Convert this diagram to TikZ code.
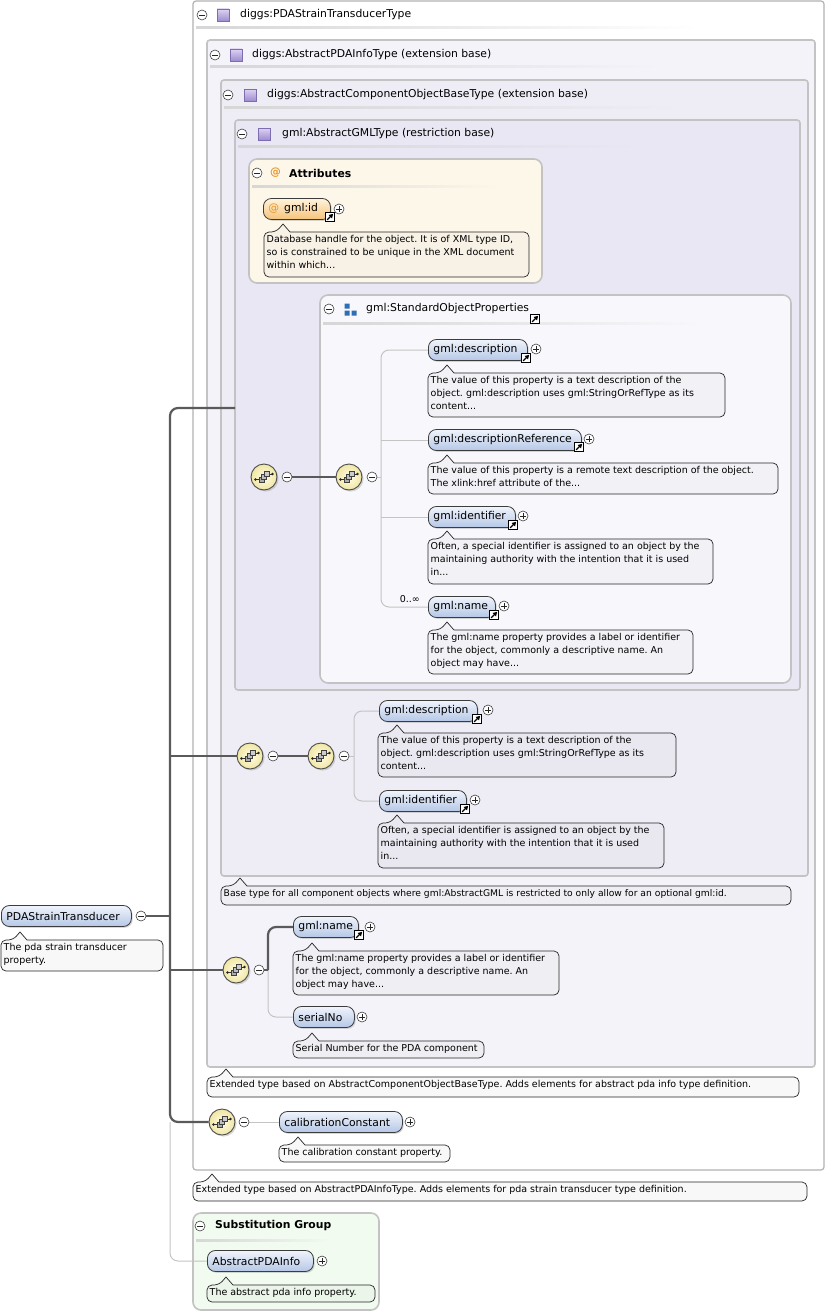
\documentclass[tikz,border=0pt]{standalone}
\usepackage{fontspec}
\setmainfont{DejaVu Sans}
\usetikzlibrary{shadows,arrows.meta}
\frenchspacing
\definecolor{boxline}{HTML}{C3C3C3}
\definecolor{bgtwo}{HTML}{F4F3F9}
\definecolor{bgthree}{HTML}{EEEDF6}
\definecolor{bgfour}{HTML}{E9E7F3}
\definecolor{attrbg}{HTML}{FDF7EA}
\definecolor{sopbg}{HTML}{F8F8FC}
\definecolor{subbg}{HTML}{F1FBEF}
\definecolor{pilltop}{HTML}{F0F4FB}
\definecolor{pillbot}{HTML}{B5C7E6}
\definecolor{pillline}{HTML}{3C3C3C}
\definecolor{orgtop}{HTML}{FFF3DC}
\definecolor{orgbot}{HTML}{F5C47A}
\definecolor{seqin}{HTML}{FFFDE6}
\definecolor{seqout}{HTML}{F0E6A4}
\definecolor{trunkc}{HTML}{5A5A5A}
\definecolor{branchc}{HTML}{C4C4C4}
\definecolor{purtop}{HTML}{DDD3F2}
\definecolor{purbot}{HTML}{9D8CCF}
\definecolor{purline}{HTML}{7D6DB0}
\definecolor{sopblue}{HTML}{2F6DB5}
\definecolor{atorange}{HTML}{E8962A}
\newcommand\dfont{\fontsize{9.5}{13}\selectfont}
\newcommand\tfont{\fontsize{10.8}{13}\selectfont}
\pgfdeclarelayer{back}
\pgfdeclarelayer{mid}
\pgfsetlayers{back,mid,main}
\tikzset{
  box/.style={draw=boxline, line width=1.6pt, rounded corners=3pt},
  pill/.style={draw=pillline, line width=0.8pt, rounded corners=8pt, top color=pilltop, bottom color=pillbot,
     minimum height=21pt, inner xsep=5pt, inner ysep=0pt, font=\tfont, anchor=west, align=left,
     drop shadow={shadow xshift=1.3pt, shadow yshift=-1.3pt, opacity=0.3}},
  orgpill/.style={top color=orgtop, bottom color=orgbot},
  descline/.style={draw=black!85, line width=0.7pt, fill=gray!40, fill opacity=0.12},
  desctext/.style={anchor=north west, inner sep=1pt, align=left, font=\dfont},
  title/.style={anchor=west, inner sep=0pt, font=\tfont},
  pm/.style={circle, draw=black!75, fill=white, minimum size=10pt, inner sep=0pt, line width=0.6pt},
  minus/.style={pm, path picture={\draw[black!85,line width=0.7pt]
      ([xshift=-2.6pt]path picture bounding box.center) -- ([xshift=2.6pt]path picture bounding box.center);}},
  plus/.style={pm, path picture={\draw[black!85,line width=0.7pt]
      ([xshift=-2.6pt]path picture bounding box.center) -- ([xshift=2.6pt]path picture bounding box.center)
      ([yshift=-2.6pt]path picture bounding box.center) -- ([yshift=2.6pt]path picture bounding box.center);}},
  linkic/.style={rectangle, draw=black, fill=white, minimum size=9.5pt, inner sep=0pt, line width=0.8pt,
     path picture={\draw[line width=1.3pt, -{Triangle[length=4pt,width=4.4pt]}]
      ([shift={(-2.8pt,-2.8pt)}]path picture bounding box.center) -- ([shift={(3.2pt,3.2pt)}]path picture bounding box.center);}},
  purpsq/.style={rectangle, minimum size=12pt, inner sep=0pt, draw=purline, line width=0.6pt, top color=purtop, bottom color=purbot},
  seq/.style={circle, minimum size=26pt, inner sep=0pt, draw=black!70, line width=0.9pt, inner color=seqin, outer color=seqout,
     drop shadow={shadow xshift=1.6pt, shadow yshift=-1.6pt, opacity=0.3},
     path picture={\begin{scope}[shift={(path picture bounding box.center)}]
        \draw[black!80, line width=0.7pt] (-8.5,2.5) -- (-4,2.5) (5,-3) -- (8.5,-3);
        \fill[black!85] (-8.5,2.5) circle (1.3pt) (8.5,-3) circle (1.3pt);
        \draw[black!75, line width=0.5pt, fill=gray!65] (-5,0) rectangle (0,5);
        \draw[black!75, line width=0.5pt, fill=gray!50] (-2.5,-2.5) rectangle (2.5,2.5);
        \draw[black!75, line width=0.5pt, fill=gray!40] (0,-5.5) rectangle (5,-0.5);
      \end{scope}}},
  trunk/.style={draw=trunkc, line width=2.2pt},
  seqlink/.style={draw=black!65, line width=1.2pt},
  branch/.style={draw=branchc, line width=1pt}
}
\newcommand\pillnode[6]{%
  \pgfmathsetmacro\tw{#5-11}%
  \node[pill, #1, text width=\tw pt] (#2) at (#3,#4) {#6};}
\newcommand\descbox[6]{%
  \draw[descline] ({#2+26},#3) [rounded corners=5pt] -- ({#2+#4},#3) -- ({#2+#4},{#3+#5}) -- (#2,{#3+#5}) -- (#2,#3) -- ({#2+12},#3) [sharp corners] -- ({#2+19},{#3-8}) -- cycle;
  \node[desctext] (#1) at ({#2+1.5},{#3+2.5}) {#6};}
% separator: x1 y x2 background colour
\newcommand\sepline[4]{\shade[left color=black!16, right color=#4] (#1,#2) rectangle (#3,{#2+2});}
\begin{document}
\begin{tikzpicture}[x=1pt,y=-1pt]
\useasboundingbox (0,0) rectangle (826,1314);
\begin{pgfonlayer}{back}
\fill[white] (0,0) rectangle (826,1314);
% containers
\draw[box, fill=white, line width=1.2pt, draw=black!30] (193,1) rectangle (824,1170);
\draw[box, fill=bgtwo] (207,40) rectangle (815,1067);
\draw[box, fill=bgthree] (221,80) rectangle (808,876);
\draw[box, fill=bgfour] (235,120) rectangle (800,690);
\draw[box, fill=attrbg, rounded corners=8pt] (249,159) rectangle (542,283);
\draw[box, fill=sopbg, rounded corners=8pt] (320,295) rectangle (791,683);
\draw[box, fill=subbg, rounded corners=8pt] (193,1213) rectangle (379,1310);
% header separators
\sepline{196}{27}{700}{white}
\sepline{210}{66}{660}{bgtwo}
\sepline{224}{106}{680}{bgthree}
\sepline{238}{145}{640}{bgfour}
\sepline{252}{185}{500}{attrbg}
\sepline{323}{322}{700}{sopbg}
\sepline{196}{1239}{330}{subbg}
\end{pgfonlayer}

% headers
\node[minus] (h1m) at (202,15) {};
\node[purpsq] (h1s) at (223,15) {};
\node[title] (h1t) at (240,15) {diggs:PDAStrainTransducerType};
\node[minus] (h2m) at (215,55) {};
\node[purpsq] (h2s) at (236,55) {};
\node[title] (h2t) at (252,55) {diggs:AbstractPDAInfoType (extension base)};
\node[minus] (h3m) at (228,95) {};
\node[purpsq] (h3s) at (250,95) {};
\node[title] (h3t) at (267,95) {diggs:AbstractComponentObjectBaseType (extension base)};
\node[minus] (h4m) at (242,134) {};
\node[purpsq] (h4s) at (264,134) {};
\node[title] (h4t) at (282,134) {gml:AbstractGMLType (restriction base)};

% attributes
\node[minus] (am) at (257,173) {};
\node[title, text=atorange, font=\tfont\bfseries] (aat) at (270,173) {@};
\node[title, font=\tfont\bfseries] (at) at (289,173) {Attributes};
\pillnode{orgpill}{gid}{263}{209}{68}{{\color{atorange}@}\hspace{5pt}gml:id}
\node[linkic] (gidl) at (330,217) {};
\node[plus] (gidp) at (339,209) {};
\descbox{dgid}{264}{232}{265}{45}{Database handle for the object. It is of XML type ID,\\so is constrained to be unique in the XML document\\within which...}

% standard object properties
\node[minus] (sm) at (329,309) {};
\fill[sopblue] (344.5,303.5) rectangle (349.5,308.5) (344.5,310.5) rectangle (349.5,315.5) (351.5,310.5) rectangle (356.5,315.5);
\node[title] (st) at (366,309) {gml:StandardObjectProperties};
\node[linkic] (stl) at (535,319) {};

\pillnode{}{sop1}{428}{350}{100}{gml:description}
\node[linkic] (sop1l) at (526,358) {};
\node[plus] (sop1p) at (536,349) {};
\descbox{dsop1}{428}{373}{297}{44}{The value of this property is a text description of the\\object. gml:description uses gml:StringOrRefType as its\\content...}
\pillnode{}{sop2}{428}{440}{154}{gml:descriptionReference}
\node[linkic] (sop2l) at (579,447) {};
\node[plus] (sop2p) at (589,439) {};
\descbox{dsop2}{428}{463}{350}{31}{The value of this property is a remote text description of the object.\\The xlink:href attribute of the...}
\pillnode{}{sop3}{428}{517}{88}{gml:identifier}
\node[linkic] (sop3l) at (513,525) {};
\node[plus] (sop3p) at (523,516) {};
\descbox{dsop3}{428}{539}{285}{45}{Often, a special identifier is assigned to an object by the\\maintaining authority with the intention that it is used\\in...}
\node[font=\dfont, anchor=east, inner sep=0pt] (mult) at (420,599) {0..∞};
\pillnode{}{sop4}{428}{607}{68}{gml:name}
\node[linkic] (sop4l) at (494,615) {};
\node[plus] (sop4p) at (504,606) {};
\descbox{dsop4}{428}{630}{265}{44}{The gml:name property provides a label or identifier\\for the object, commonly a descriptive name. An\\object may have...}

% sequence group A
\node[seq] (seqA) at (264,477) {};
\node[minus] (mA) at (287,477) {};
\node[seq] (seqB) at (349,477) {};
\node[minus] (mB) at (372,477) {};

% group C
\node[seq] (seqC) at (250,756) {};
\node[minus] (mC) at (273,756) {};
\node[seq] (seqD) at (321,756) {};
\node[minus] (mD) at (344,756) {};
\pillnode{}{g2a}{379}{711}{99}{gml:description}
\node[linkic] (g2al) at (477,719) {};
\node[plus] (g2ap) at (488,710) {};
\descbox{dg2a}{378}{733}{298}{44}{The value of this property is a text description of the\\object. gml:description uses gml:StringOrRefType as its\\content...}
\pillnode{}{g2b}{379}{801}{88}{gml:identifier}
\node[linkic] (g2bl) at (465,809) {};
\node[plus] (g2bp) at (475,800) {};
\descbox{dg2b}{378}{823}{286}{45}{Often, a special identifier is assigned to an object by the\\maintaining authority with the intention that it is used\\in...}
\descbox{db3}{221}{886}{570}{19}{\fontsize{9.2}{13}\selectfont Base type for all component objects where gml:AbstractGML is restricted to only allow for an optional gml:id.}

% group E
\node[seq] (seqE) at (236,970) {};
\node[minus] (mE) at (259,970) {};
\pillnode{}{g3a}{293}{927}{66}{gml:name}
\node[linkic] (g3al) at (359,935) {};
\node[plus] (g3ap) at (370,927) {};
\descbox{dg3a}{293}{951}{266}{44}{The gml:name property provides a label or identifier\\for the object, commonly a descriptive name. An\\object may have...}
\pillnode{}{g3b}{293}{1017}{62}{serialNo}
\node[plus] (g3bp) at (362,1017) {};
\descbox{dg3b}{293}{1041}{191}{17}{Serial Number for the PDA component}
\descbox{db2}{207}{1077}{592}{20}{Extended type based on AbstractComponentObjectBaseType. Adds elements for abstract pda info type definition.}

% group F
\node[seq] (seqF) at (222,1122) {};
\node[minus] (mF) at (244,1122) {};
\pillnode{}{cal}{279}{1122}{124}{calibrationConstant}
\node[plus] (calp) at (410,1122) {};
\descbox{dcal}{279}{1145}{171}{17}{The calibration constant property.}
\descbox{db1}{193}{1182}{614}{19}{Extended type based on AbstractPDAInfoType. Adds elements for pda strain transducer type definition.}

% root element
\pillnode{}{psd}{1}{916}{131}{PDAStrainTransducer}
\node[minus] (psdm) at (141,916) {};
\descbox{dpsd}{1}{940}{162}{31}{The pda strain transducer\\property.}

% substitution group
\node[minus] (subm) at (200,1226) {};
\node[title, font=\tfont\bfseries] (subt) at (215,1226) {Substitution Group};
\pillnode{}{api}{207}{1261}{107}{AbstractPDAInfo}
\node[plus] (apip) at (322,1261) {};
\descbox{dapi}{207}{1285}{168}{17}{The abstract pda info property.}

% connectors
\coordinate (T) at (170,916);
\coordinate (Tb) at (170,1122);
\coordinate (b4hook) at (235,408);
\coordinate (PA) at (381,477);
\coordinate (PC) at (354,756);
\coordinate (PE) at (268,970);
\begin{pgfonlayer}{mid}
\draw[branch, rounded corners=8pt] (Tb) |- (api.west);
\draw[trunk, rounded corners=8pt] (b4hook) -| (T) |- (seqF.west);
\draw[trunk] (psdm.east) -- (T);
\draw[trunk] (seqC.west) -- (seqC.west -| T);
\draw[trunk] (seqE.west) -- (seqE.west -| T);
\draw[seqlink] (mA.east) -- (seqB.west);
\draw[branch] (mB.east) -- (PA);
\draw[branch, rounded corners=8pt] (sop1.west) -| (PA) |- (sop4.west);
\draw[branch] (sop2.west) -- (sop2.west -| PA);
\draw[branch] (sop3.west) -- (sop3.west -| PA);
\draw[seqlink] (mC.east) -- (seqD.west);
\draw[branch] (mD.east) -- (PC);
\draw[branch, rounded corners=8pt] (g2a.west) -| (PC) |- (g2b.west);
\draw[branch, rounded corners=8pt] (PE) |- (g3b.west);
\draw[trunk] (mE.east) -- (PE);
\draw[trunk, rounded corners=8pt] (PE) |- (g3a.west);
\draw[branch] (mF.east) -- (cal.west);
\end{pgfonlayer}
\end{tikzpicture}
\end{document}
